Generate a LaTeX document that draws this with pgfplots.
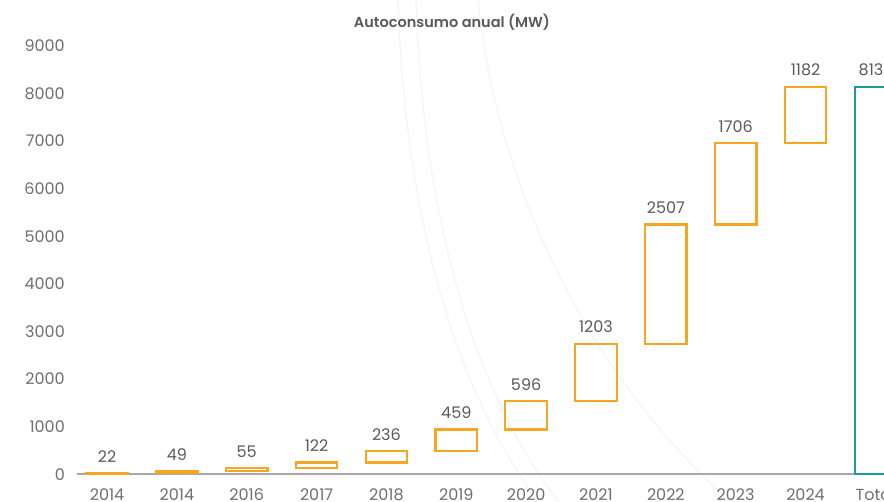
\documentclass[border=0pt]{standalone}
\usepackage{pgfplots}
\pgfplotsset{compat=1.18}
\usepackage{fontspec}
\setmainfont{Poppins}
\newfontfamily\titlefont{Poppins}[UprightFont={* SemiBold}]
\definecolor{wforange}{HTML}{F5A623}
\definecolor{wfteal}{HTML}{1A9C98}
\definecolor{tickgray}{HTML}{6F6F6F}
\definecolor{labgray}{HTML}{5A5A5A}
\definecolor{axgray}{HTML}{A8A8A8}
\definecolor{arcgray}{HTML}{F6F6F6}
\pgfplotsset{
  wf/.style={
    scale only axis, width=833.3pt, height=428.4pt,
    at={(0,0)}, anchor=south west,
    xmin=-0.43, xmax=11.5, ymin=0, ymax=9000,
    axis x line*=bottom, axis y line*=left,
    x axis line style={draw=axgray, line width=2pt, -},
    y axis line style={draw=none},
    major tick length=0pt,
    xtick={0,...,11},
    xticklabels={2014,2014,2016,2017,2018,2019,2020,2021,2022,2023,2024,Total},
    ytick={0,1000,...,9000},
    /pgf/number format/assume math mode=true,
    /pgf/number format/1000 sep={},
    tick label style={font=\fontsize{16}{18}\selectfont, text=tickgray, inner sep=0pt},
    xticklabel style={anchor=north},
    yticklabel style={anchor=east},
    xticklabel shift=14pt,
    yticklabel shift=12pt,
    nodes near coords style={font=\fontsize{16}{18}\selectfont, text=labgray, anchor=south, inner sep=0pt, yshift=10.5pt},
  }
}
\begin{document}
\begin{tikzpicture}
\begin{scope}[shift={(-77pt,474.3pt)}, x=1pt, y=-1pt, draw=arcgray, line width=1.6pt]
\draw (398,0) .. controls (404,200) and (450,390) .. (545,510);
\draw (416,0) .. controls (422,200) and (468,390) .. (565,510);
\draw (478,0) .. controls (498,200) and (600,390) .. (740,510);
\end{scope}
\begin{axis}[wf, ybar stacked, bar width=41.5pt]
\addplot[draw=none, fill=none] coordinates {(0,0) (1,22) (2,71) (3,126) (4,248) (5,484) (6,943) (7,1539) (8,2742) (9,5249) (10,6955)};
\addplot[draw=wforange, fill=none, line width=2.2pt] coordinates {(0,22) (1,49) (2,55) (3,122) (4,236) (5,459) (6,596) (7,1203) (8,2507) (9,1706) (10,1182)};
\end{axis}
\begin{axis}[wf, hide axis, ybar, bar width=41.5pt, bar shift=0pt]
\addplot[draw=wfteal, fill=none, line width=2.2pt] coordinates {(11,8137)};
\end{axis}
\begin{axis}[wf, hide axis]
\addplot[only marks, mark=none, nodes near coords, point meta=explicit symbolic] coordinates {(0,22)[22] (1,71)[49] (2,126)[55] (3,248)[122] (4,484)[236] (5,943)[459] (6,1539)[596] (7,2742)[1203] (8,5249)[2507] (9,6955)[1706] (10,8137)[1182] (11,8137)[8137]};
\end{axis}
\node[font=\fontsize{14.5}{17}\selectfont\titlefont, text=labgray] at (375pt,452pt) {Autoconsumo anual (MW)};
\pgfresetboundingbox
\useasboundingbox (-77pt,-27.7pt) rectangle (807pt,474.3pt);
\end{tikzpicture}
\end{document}
